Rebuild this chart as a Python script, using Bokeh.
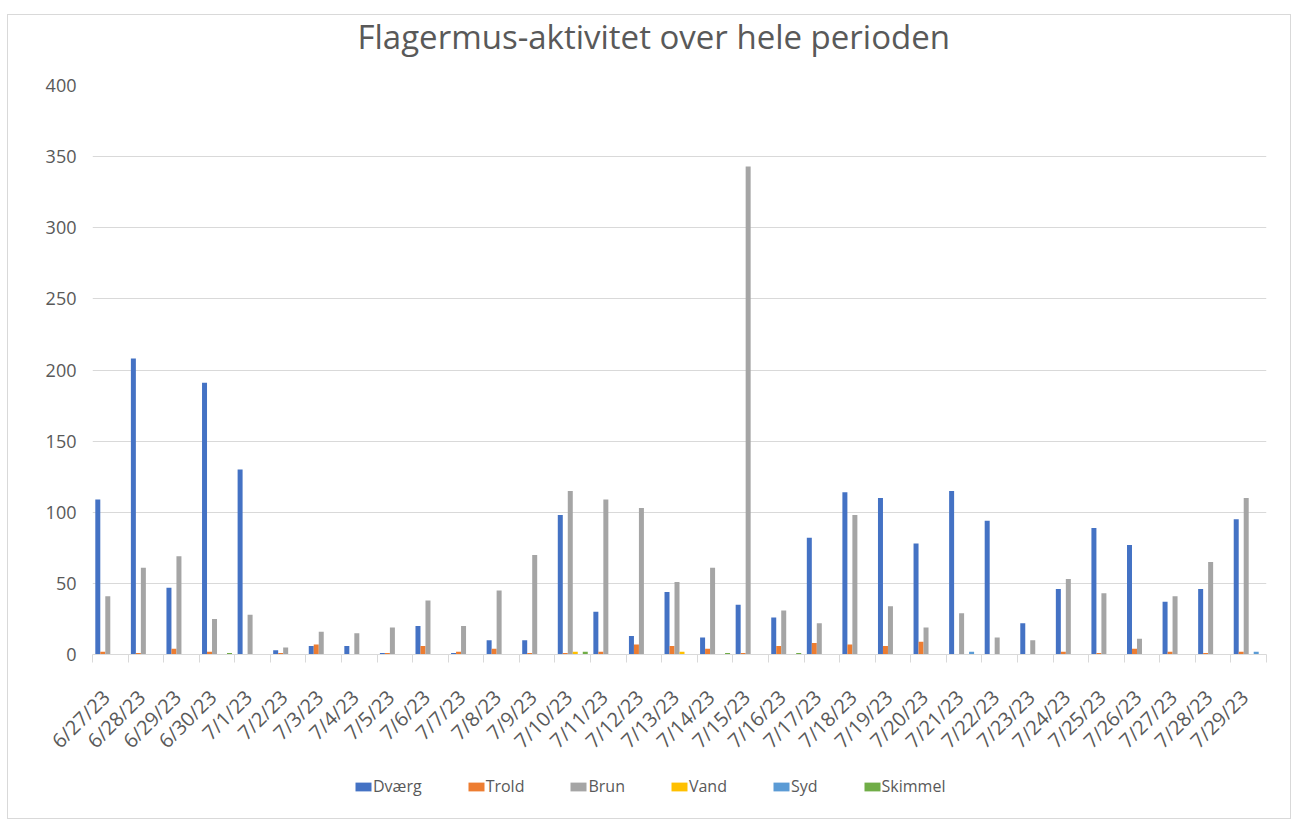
import math
from bokeh.plotting import figure
from bokeh.models import ColumnDataSource, FixedTicker, Legend, LegendItem, Range1d
from bokeh.layouts import column
from bokeh.transform import dodge
from bokeh.embed import file_html
from bokeh.resources import INLINE

dates = ["6/27/23", "6/28/23", "6/29/23", "6/30/23", "7/1/23", "7/2/23", "7/3/23",
         "7/4/23", "7/5/23", "7/6/23", "7/7/23", "7/8/23", "7/9/23", "7/10/23",
         "7/11/23", "7/12/23", "7/13/23", "7/14/23", "7/15/23", "7/16/23", "7/17/23",
         "7/18/23", "7/19/23", "7/20/23", "7/21/23", "7/22/23", "7/23/23", "7/24/23",
         "7/25/23", "7/26/23", "7/27/23", "7/28/23", "7/29/23"]

dvaerg = [109, 208, 47, 191, 130, 3, 6, 6, 1, 20, 1, 10, 10, 98, 30, 13, 44, 12, 35, 26,
          82, 114, 110, 78, 115, 94, 22, 46, 89, 77, 37, 46, 95]
trold = [2, 1, 4, 2, 0, 1, 7, 0, 1, 6, 2, 4, 1, 1, 2, 7, 6, 4, 1, 6,
         8, 7, 6, 9, 0, 0, 0, 2, 1, 4, 2, 1, 2]
brun = [41, 61, 69, 25, 28, 5, 16, 15, 19, 38, 20, 45, 70, 115, 109, 103, 51, 61, 343, 31,
        22, 98, 34, 19, 29, 12, 10, 53, 43, 11, 41, 65, 110]
vand = [0, 0, 0, 0, 0, 0, 0, 0, 0, 0, 0, 0, 0, 2, 0, 0, 2, 0, 0, 0,
        0, 0, 0, 0, 0, 0, 0, 0, 0, 0, 0, 0, 0]
syd = [0, 0, 0, 0, 0, 0, 0, 0, 0, 0, 0, 0, 0, 0, 0, 0, 0, 0, 0, 0,
       0, 0, 0, 0, 2, 0, 0, 0, 0, 0, 0, 0, 2]
skimmel = [0, 0, 0, 1, 0, 0, 0, 0, 0, 0, 0, 0, 0, 2, 0, 0, 0, 1, 0, 1,
           0, 0, 0, 0, 0, 0, 0, 0, 0, 0, 0, 0, 0]

series_names = ["Dværg", "Trold", "Brun", "Vand", "Syd", "Skimmel"]
series_keys = ["dvaerg", "trold", "brun", "vand", "syd", "skimmel"]
colors = ["#4472C4", "#ED7D31", "#A5A5A5", "#FFC000", "#5B9BD5", "#70AD47"]

TEXT = "#595959"
GRID = "#d9d9d9"
FONT = "Open Sans"

idx = list(range(len(dates)))
source = ColumnDataSource(dict(x=idx, dvaerg=dvaerg, trold=trold, brun=brun,
                               vand=vand, syd=syd, skimmel=skimmel))
bar_w = 0.1404

# ---------------- main chart ----------------
p = figure(width=1291, height=770, output_backend="svg", toolbar_location=None,
           x_range=Range1d(-0.5, len(dates) - 0.5), y_range=Range1d(0, 400),
           min_border_left=92, min_border_right=25, min_border_top=85, min_border_bottom=116)

p.title.text = "Flagermus-aktivitet over hele perioden"
p.title.align = "left"
p.title.offset = 265
p.title.text_font = FONT
p.title.text_font_size = "33px"
p.title.text_font_style = "normal"
p.title.text_color = TEXT
p.title.vertical_align = "top"
p.title.standoff = 0
p.title.padding = dict(left=0, right=0, top=0, bottom=25)

for k, (name, key, color) in enumerate(zip(series_names, series_keys, colors)):
    p.vbar(x=dodge("x", (k - 2.5) * bar_w), top=key, width=bar_w, source=source,
           fill_color=color, line_color=None)

# x axis: labels sit slightly left of the category centre (as in the reference)
label_shift = 0.12
label_ticks = [i - label_shift for i in idx]
p.xaxis.ticker = FixedTicker(ticks=label_ticks,
                             minor_ticks=[i - 0.5 for i in range(len(dates) + 1)])
p.xaxis.major_label_overrides = {t: d for t, d in zip(label_ticks, dates)}
p.xaxis.major_label_orientation = math.pi / 4
p.xaxis.major_tick_out = 0
p.xaxis.major_tick_in = 0
p.xaxis.minor_tick_out = 8
p.xaxis.minor_tick_in = 0
p.xaxis.minor_tick_line_color = GRID
p.xaxis.axis_line_color = GRID
p.xaxis.major_label_text_font = FONT
p.xaxis.major_label_text_font_size = "20px"
p.xaxis.major_label_text_color = TEXT
p.xaxis.major_label_standoff = 31

# y axis
p.yaxis.ticker = FixedTicker(ticks=list(range(0, 401, 50)))
p.yaxis.axis_line_color = None
p.yaxis.major_tick_line_color = None
p.yaxis.minor_tick_line_color = None
p.yaxis.major_tick_out = 0
p.yaxis.major_tick_in = 0
p.yaxis.major_label_text_font = FONT
p.yaxis.major_label_text_font_size = "18px"
p.yaxis.major_label_text_color = TEXT
p.yaxis.major_label_standoff = 16

p.xgrid.grid_line_color = None
p.ygrid.grid_line_color = GRID
p.ygrid.grid_line_width = 1
p.outline_line_color = None
p.background_fill_color = None
p.border_fill_color = None

# ---------------- legend strip below the chart ----------------
pl = figure(width=1291, height=50, output_backend="svg", toolbar_location=None,
            x_range=Range1d(-0.5, len(dates) - 0.5), y_range=Range1d(0, 400),
            x_axis_location=None, y_axis_location=None,
            min_border_left=0, min_border_right=0, min_border_top=0, min_border_bottom=0)
pl.grid.visible = False
pl.outline_line_color = None
pl.background_fill_color = None
pl.border_fill_color = None

items = []
for k, (name, key, color) in enumerate(zip(series_names, series_keys, colors)):
    r = pl.rect(x=dodge("x", (k - 2.5) * bar_w), y=key, width=bar_w, height=1, source=source,
                fill_color=color, line_color=None, visible=False)
    items.append(LegendItem(label=name, renderers=[r]))

legend = Legend(items=items, orientation="horizontal", location=(261, 23),
                glyph_width=20, glyph_height=11, label_standoff=0, spacing=44,
                padding=0, margin=0, border_line_color=None, background_fill_alpha=0,
                inactive_fill_alpha=0,
                label_text_font=FONT, label_text_font_size="16px", label_text_color=TEXT)
pl.add_layout(legend, "center")

line = "linear-gradient(#d9d9d9, #d9d9d9)"
layout = column(p, pl, spacing=0, styles={
    "background-color": "white",
    "background-image": ", ".join([line] * 4),
    "background-size": "1284px 1px, 1284px 1px, 1px 805px, 1px 805px",
    "background-position": "7px 14px, 7px 818px, 7px 14px, 1290px 14px",
    "background-repeat": "no-repeat",
})
open("out.html", "w").write(file_html(layout, INLINE))
